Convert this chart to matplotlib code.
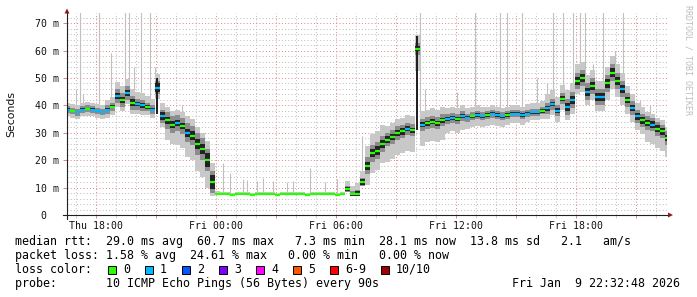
import numpy as np
import matplotlib
matplotlib.use('Agg')
import matplotlib.pyplot as plt
from matplotlib.patches import Rectangle, Polygon

# janela de 30 h a partir de Thu 16:32:48, uma amostra a cada 15 min
step = 0.25

# rtt mediano (ms) por amostra
median = [38.5, 38.0, 37.5, 38.5, 38.8, 38.5, 38.0, 37.6, 38.5, 39.5,
          43.5, 42.0, 44.5, 41.0, 40.5, 40.0, 39.5, 38.5, 46.5, 36.0,
          34.5, 33.0, 33.5, 32.5, 30.0, 29.0, 26.0, 24.0, 20.0, 12.0,
          7.6, 7.5, 7.5, 7.4, 7.5, 7.5, 7.5, 7.4, 7.5, 7.5,
          7.5, 7.5, 7.4, 7.5, 7.5, 7.5, 7.5, 7.5, 7.4, 7.5,
          7.5, 7.5, 7.5, 7.5, 7.4, 7.5, 9.5, 7.5, 7.6, 12.0,
          18.0, 22.5, 23.5, 26.0, 27.5, 28.5, 30.0, 30.5, 31.5, 31.0,
          60.7, 33.0, 33.5, 34.0, 33.5, 34.5, 35.0, 35.5, 35.0, 36.0,
          35.5, 36.0, 36.5, 36.0, 36.5, 37.0, 36.5, 36.0, 36.5, 37.0,
          37.0, 36.5, 37.0, 37.5, 37.5, 38.0, 39.0, 40.5, 38.0, 42.5,
          39.5, 42.0, 49.0, 50.0, 45.0, 47.0, 43.0, 43.0, 48.0, 52.0,
          49.0, 46.0, 42.0, 39.0, 36.0, 34.5, 33.5, 33.0, 31.5, 30.5,
          28.1]

# pacotes perdidos (de 10) por amostra
loss = [1, 0, 1, 1, 0, 1, 1, 1, 1, 0,
        1, 0, 1, 0, 1, 1, 0, 1, 1, 1,
        0, 0, 1, 0, 1, 0, 0, 0, 0, 0,
        0, 0, 0, 0, 0, 0, 0, 0, 0, 0,
        0, 0, 0, 0, 0, 0, 0, 0, 0, 0,
        0, 0, 0, 0, 0, 0, 0, 0, 0, 0,
        0, 0, 0, 0, 0, 0, 0, 0, 1, 0,
        0, 1, 0, 0, 0, 0, 1, 1, 0, 1,
        1, 0, 1, 1, 0, 1, 1, 1, 0, 1,
        1, 1, 1, 1, 1, 0, 1, 1, 1, 0,
        1, 1, 0, 0, 1, 0, 1, 1, 0, 0,
        0, 1, 0, 1, 1, 0, 0, 1, 0, 0,
        0]

# fumaca: espalhamento dos pings em torno do mediano, por meia hora (ms)
smoke_dn = [2.5, 2.5, 2.5, 2.5, 3, 4, 4, 3.5, 3, 4,
            7, 8, 9, 10, 10, 0, 0, 0, 0, 0,
            0, 0, 0, 0, 0, 0, 0, 0, 0, 0.5,
            7, 7, 8, 8, 8, 8, 7, 7, 5, 5,
            4, 4, 4, 4, 3.5, 3.5, 3, 3, 4, 4,
            5, 5, 5, 5, 6, 6, 5, 5, 7, 7]
smoke_up = [2.5, 2.5, 2.5, 2.5, 3.5, 5, 5, 4.5, 4, 5,
            5, 5, 6, 6, 7, 1, 0.8, 0.8, 0.8, 0.8,
            0.8, 0.8, 0.8, 0.8, 0.8, 0.8, 0.8, 0.8, 3, 4,
            7, 7, 5, 5, 5, 5, 5, 5, 4, 4,
            3.5, 3.5, 3, 3, 3, 3, 3.5, 3.5, 5, 5,
            6, 6, 6, 6, 6, 6, 5, 5, 4, 4]
smoke_mid = [1.2, 1.2, 1.2, 1.2, 1.5, 2.5, 2.5, 2, 1.5, 2.5,
             3, 3, 3.5, 4, 4, 0, 0, 0, 0, 0,
             0, 0, 0, 0, 0, 0, 0, 0, 1.2, 1.5,
             3, 3, 2.5, 2.5, 2.2, 2.2, 2.2, 2.2, 1.8, 1.8,
             1.5, 1.5, 1.5, 1.5, 1.3, 1.3, 1.3, 1.3, 2, 2,
             3, 3, 3, 3, 3, 3, 2.5, 2.5, 2.5, 2.5]
smoke_core = [0.4, 0.4, 0.4, 0.4, 0.6, 1.2, 1.2, 0.9, 0.7, 1.5,
              1.2, 1.2, 1.5, 1.8, 2.5, 0, 0, 0, 0, 0,
              0, 0, 0, 0, 0, 0, 0, 0, 0.6, 1,
              1.5, 1.5, 1.2, 1.2, 0.9, 0.9, 0.9, 0.9, 0.7, 0.7,
              0.6, 0.6, 0.6, 0.6, 0.6, 0.6, 0.6, 0.6, 0.9, 0.9,
              1.5, 1.5, 1.5, 1.5, 1.5, 1.5, 1.2, 1.2, 1.2, 1.2]

# pings isolados altos (hora, ms)
spike_t = [0.45, 0.65, 0.8, 1.6, 2.2, 2.9, 3.1, 3.35, 3.7, 4.15,
           4.4, 5.75, 7.8, 8.15, 8.8, 9.0, 9.5, 9.8, 10.3, 11.0,
           11.3, 12.15, 12.9, 13.5, 14.75, 17.65, 17.9, 19.5, 20.4, 21.65,
           22.0, 22.75, 23.5, 24.0, 24.3, 24.8, 25.3, 25.65, 25.9, 26.3,
           26.8, 27.4, 27.8, 28.05, 28.65, 29.15]
spike_top = [46, 75, 44, 75, 59, 75, 75, 54, 75, 75,
             54, 40, 19, 15.5, 13, 12.8, 12.5, 13.5, 12.5, 12,
             12.5, 17, 12, 13, 29, 75, 46, 45, 75, 75,
             75, 75, 50, 48, 75, 75, 75, 75, 75, 55,
             75, 60, 75, 45, 42, 40]

# barras escuras (hora, min, max)
bar_t = [4.5, 17.5]
bar_lo = [37.0, 31.0]
bar_hi = [50.0, 65.5]

tick_hours = [1.453, 7.453, 13.453, 19.453, 25.453]
tick_names = ['Thu 18:00', 'Fri 00:00', 'Fri 06:00', 'Fri 12:00', 'Fri 18:00']

loss_names = ['0', '1', '2', '3', '4', '5', '6-9', '10/10']
loss_colors = ['#26ff00', '#00b8ff', '#0059ff', '#7e00ff',
               '#ff00ff', '#ff5500', '#ff0000', '#a10000']

W, H = 697, 297


def px(x, y):
    return x / W, 1 - y / H


fig = plt.figure(figsize=(W / 100, H / 100), dpi=100, facecolor='white')
ax = fig.add_axes([67 / W, 1 - 215 / H, 600 / W, 202 / H])
ax.set_facecolor('white')
ax.set_xlim(0, 30)
ax.set_ylim(0, 73.72)

t = np.arange(len(median)) * step
med = np.array(median)
blk = np.minimum(np.arange(len(median)) // 2, len(smoke_dn) - 1)
dn = np.array(smoke_dn)[blk]
up = np.array(smoke_up)[blk]
mid = np.array(smoke_mid)[blk]
core = np.array(smoke_core)[blk]

# grade pontilhada
mono = 'DejaVu Sans Mono'
dots = (0, (1, 2.2))
major_x = [tick_hours[0] + 3 * k for k in range(10)]
minor_x = [tick_hours[0] - 1 + k for k in range(30)]
ax.set_xticks(major_x)
ax.set_xticklabels([tick_names[k // 2] if k % 2 == 0 else '' for k in range(10)])
ax.set_xticks(minor_x, minor=True)
ax.set_yticks(np.arange(0, 71, 10))
ax.set_yticklabels([' 0'] + ['%d m' % v for v in range(10, 71, 10)])
ax.set_yticks(np.arange(0, 74, 2), minor=True)
ax.grid(True, which='major', color='#e08888', lw=0.72, ls=dots)
ax.grid(True, which='minor', color='#bdbdbd', lw=0.72, ls=dots)
ax.set_axisbelow(True)
ax.tick_params(axis='x', which='major', length=2.2, width=0.72, color='#e08888',
               pad=1.8, labelsize=7.1, labelcolor='#111111')
ax.tick_params(axis='x', which='minor', length=2.2, width=0.72, color='#cfcfcf')
ax.tick_params(axis='y', which='major', length=2.9, width=0.72, color='#e08888',
               pad=20.1, labelsize=7.1, labelcolor='#111111')
ax.tick_params(axis='y', which='minor', length=0)
for lbl in ax.get_xticklabels() + ax.get_yticklabels():
    lbl.set_family(mono)
for lbl in ax.get_yticklabels():
    lbl.set_ha('left')
for s in ax.spines.values():
    s.set_visible(False)

# fumaca
ax.vlines(spike_t, med[np.round(np.array(spike_t) / step).astype(int)], spike_top,
          color='#c0c0c0', lw=0.8, zorder=2)
ax.fill_between(t, np.maximum(med - dn, 7.0), med + up, step='mid',
                color='#c8c8c8', lw=0, zorder=3)
ax.fill_between(t, np.maximum(med - mid, 7.0), med + mid, step='mid',
                color='#8c8c8c', lw=0, zorder=4)
ax.fill_between(t, np.maximum(med - core, 7.0), med + core, step='mid',
                color='#222222', lw=0, zorder=5)
ax.vlines(bar_t, bar_lo, bar_hi, color='#1c1c1c', lw=1.4, zorder=5)

# mediano colorido pela perda
ax.hlines(med, t - step / 2, t + step / 2,
          colors=[loss_colors[l] for l in loss], lw=1.6, zorder=6)

# eixos com setas
ax.plot([-0.2, 30.05], [0, 0], color='#202020', lw=0.8, clip_on=False, zorder=7)
ax.plot([0, 0], [-1.4, 73.72], color='#202020', lw=0.8, clip_on=False, zorder=7)
fig.add_artist(Polygon([px(668, 212.5), px(673, 215), px(668, 217.5)],
                       closed=True, transform=fig.transFigure,
                       color='#8b1a1a', lw=0))
fig.add_artist(Polygon([px(64.5, 13.5), px(67, 8.5), px(69.5, 13.5)],
                       closed=True, transform=fig.transFigure,
                       color='#8b1a1a', lw=0))

fig.text(*px(11, 114), 'Seconds', rotation=90, ha='center', va='center',
         fontsize=7.8, family='DejaVu Sans', color='#111111')
fig.text(*px(688, 5), 'RRDTOOL / TOBI OETIKER', rotation=270, ha='center',
         va='top', fontsize=6.0, family=mono, color='#bdbdbd')

# legenda
fs = 8.35
fig.text(*px(15, 245.3),
         'median rtt:  29.0 ms avg  60.7 ms max   7.3 ms min  28.1 ms now  '
         '13.8 ms sd   2.1   am/s', fontsize=fs, family=mono, va='baseline')
fig.text(*px(15, 259.3),
         'packet loss: 1.58 % avg  24.61 % max   0.00 % min   0.00 % now',
         fontsize=fs, family=mono, va='baseline')
fig.text(*px(15, 272.7), 'loss color:', fontsize=fs, family=mono, va='baseline')
bx = 108
for name, col in zip(loss_names, loss_colors):
    x0, y0 = px(bx, 274)
    fig.add_artist(Rectangle((x0, y0), 8 / W, 8 / H, transform=fig.transFigure,
                             facecolor=col, edgecolor='#000000', lw=0.7))
    fig.text(*px(bx + 15, 272.7), name, fontsize=fs, family=mono, va='baseline')
    bx += 37 + 6.96 * (len(name) - 1)
fig.text(*px(15, 286.7), 'probe:       10 ICMP Echo Pings (56 Bytes) every 90s',
         fontsize=fs, family=mono, va='baseline')
fig.text(*px(680, 286.7), 'Fri Jan  9 22:32:48 2026', fontsize=fs, family=mono,
         va='baseline', ha='right')

fig.savefig('out.png', dpi=100, facecolor='white')
